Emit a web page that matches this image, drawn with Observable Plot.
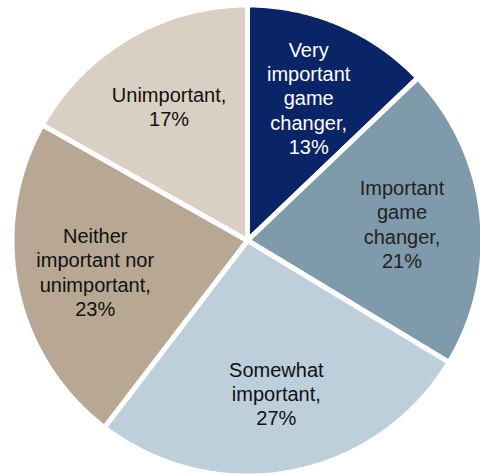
<!DOCTYPE html>
<html>
<head>
<meta charset="utf-8">
<script src="https://cdn.jsdelivr.net/npm/d3@7"></script>
<script src="https://cdn.jsdelivr.net/npm/@observablehq/plot@0.6"></script>
<style>
  html, body { margin: 0; padding: 0; background: #fff; }
</style>
</head>
<body>
<div id="chart"></div>
<script>
const categories = ["Very important game changer", "Important game changer", "Somewhat important", "Neither important nor unimportant", "Unimportant"];
const values = [13, 21, 27, 23, 17];
const labels = ["Very\nimportant\ngame\nchanger,\n13%", "Important\ngame\nchanger,\n21%", "Somewhat\nimportant,\n27%", "Neither\nimportant nor\nunimportant,\n23%", "Unimportant,\n17%"];
const colors = ["#0a2468", "#7f9bab", "#bccfda", "#b8a893", "#d9d0c3"];
const textColors = ["#ffffff", "#222222", "#111111", "#111111", "#111111"];

const W = 480, H = 474;
const cx = 247, cy = 240, R = 235.5;

const pie = d3.pie().sort(null).value(d => d.value);
const arcs = pie(categories.map((c, i) => ({category: c, value: values[i], label: labels[i]})));

// polygon points along each slice (angles from 12 o'clock, clockwise)
const slicePts = [];
arcs.forEach(a => {
  slicePts.push({category: a.data.category, x: 0, y: 0});
  const n = Math.max(2, Math.ceil((a.endAngle - a.startAngle) / 0.01));
  for (let k = 0; k <= n; k++) {
    const t = a.startAngle + (a.endAngle - a.startAngle) * k / n;
    slicePts.push({category: a.data.category, x: Math.sin(t), y: Math.cos(t)});
  }
});

const labelR = 0.66;
const labelPts = arcs.map((a, i) => {
  const t = (a.startAngle + a.endAngle) / 2;
  return {category: a.data.category, label: a.data.label, x: labelR * Math.sin(t), y: labelR * Math.cos(t), color: textColors[i]};
});

const chart = Plot.plot({
  width: W,
  height: H,
  margin: 0,
  style: {fontFamily: "'Liberation Sans', Arial, sans-serif", background: "#fff"},
  x: {domain: [-1, 1], range: [cx - R, cx + R], axis: null},
  y: {domain: [-1, 1], range: [cy + R, cy - R], axis: null},
  color: {domain: categories, range: colors},
  marks: [
    Plot.line(slicePts, {x: "x", y: "y", z: "category", fill: "category", stroke: "white", strokeWidth: 5, curve: "linear-closed", strokeLinejoin: "miter"}),
    Plot.text(labelPts, {x: "x", y: "y", text: "label", fill: "color", fontSize: 20, lineHeight: 1.22, textAnchor: "middle"})
  ]
});
document.getElementById("chart").appendChild(chart);
</script>
</body>
</html>
